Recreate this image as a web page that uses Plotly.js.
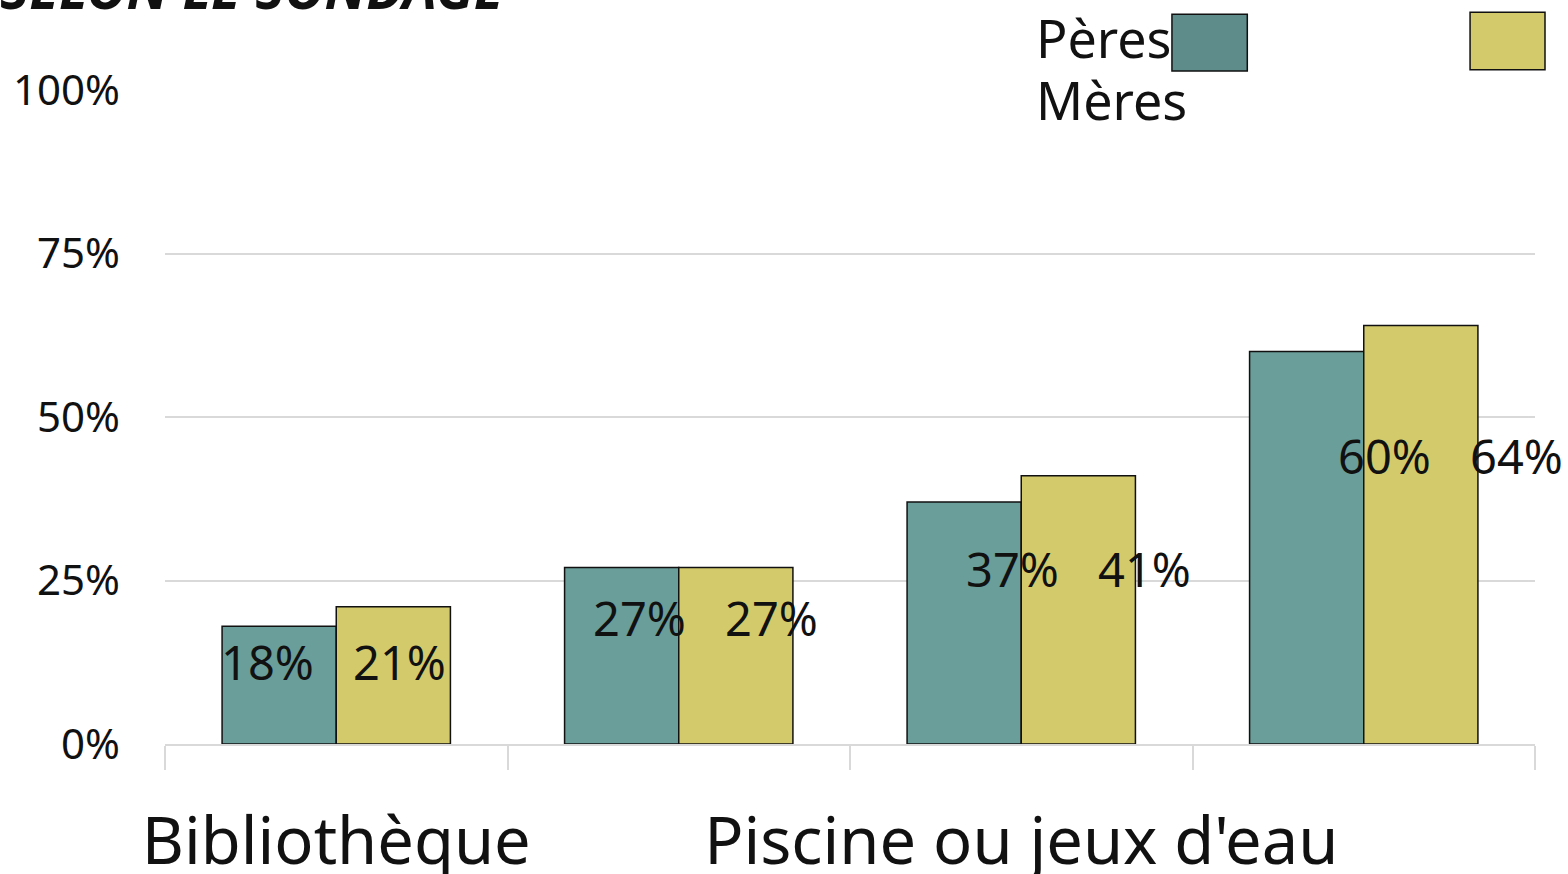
<!DOCTYPE html>
<html>
<head>
<meta charset="utf-8">
<script src="https://cdn.plot.ly/plotly-3.0.1.min.js"></script>
<style>
  html, body { margin: 0; padding: 0; background: #fff; }
  #chart { width: 1568px; height: 874px; }
</style>
</head>
<body>
<div id="chart"></div>
<script>
// Survey chart: Pères vs Mères
const categories = ['Bibliothèque', '', "Piscine ou jeux d'eau", ''];
const peres = [18, 27, 37, 60];
const meres = [21, 27, 41, 64];
const yTicks = [0, 25, 50, 75, 100];

const FONT = 'Noto Sans, Open Sans, sans-serif';
const teal = '#6a9e9a';
const yellow = '#d3cb6b';

const idx = categories.map((_, i) => i);

const traces = [
    {
        type: 'bar', name: 'Pères', x: idx, y: peres,
        marker: { color: teal, line: { color: '#111', width: 1.5 } },
        hoverinfo: 'y'
    },
    {
        type: 'bar', name: 'Mères', x: idx, y: meres,
        marker: { color: yellow, line: { color: '#111', width: 1.5 } },
        hoverinfo: 'y'
    }
];

// value labels, drawn lower in the bar like the original
const annotations = [];
peres.forEach((v, i) => {
    annotations.push({
        x: i, y: v * 0.75 - 1, xref: 'x', yref: 'y', text: v + '%',
        showarrow: false, xshift: -57 - 12 + 30 * i,
        font: { family: FONT, size: 47, color: '#111' }
    });
});
meres.forEach((v, i) => {
    annotations.push({
        x: i, y: peres[i] * 0.75 - 1, xref: 'x', yref: 'y', text: v + '%',
        showarrow: false, xshift: 57 + 6 + 30 * i,
        font: { family: FONT, size: 47, color: '#111' }
    });
});

// cut-off title at the top
annotations.push({
    xref: 'paper', yref: 'paper', x: -0.122, y: 1.156, xanchor: 'left', yanchor: 'middle',
    text: '<b><i>SELON LE SONDAGE</i></b>', showarrow: false,
    font: { family: FONT, size: 55, color: '#111' }
});

// legend texts
annotations.push({
    xref: 'paper', yref: 'paper', x: 0.634, y: 1.08, xanchor: 'left', yanchor: 'middle',
    text: 'Pères', showarrow: false, font: { family: FONT, size: 52, color: '#111' }
});
annotations.push({
    xref: 'paper', yref: 'paper', x: 0.634, y: 0.985, xanchor: 'left', yanchor: 'middle',
    text: 'Mères', showarrow: false, font: { family: FONT, size: 52, color: '#111' }
});

const shapes = [
    { type: 'rect', xref: 'paper', yref: 'paper', x0: 0.735, x1: 0.79, y0: 1.029, y1: 1.116,
      fillcolor: '#5e8c8a', line: { color: '#111', width: 1.5 } },
    { type: 'rect', xref: 'paper', yref: 'paper', x0: 0.9526, x1: 1.0073, y0: 1.031, y1: 1.119,
      fillcolor: yellow, line: { color: '#111', width: 1.5 } }
];

const layout = {
    width: 1568, height: 874,
    margin: { l: 165, r: 33, t: 90, b: 130 },
    paper_bgcolor: '#fff', plot_bgcolor: '#fff',
    barmode: 'group', bargap: 1 / 3, bargroupgap: 0,
    showlegend: false,
    font: { family: FONT, color: '#111' },
    xaxis: {
        range: [-0.5, 3.5],
        tickmode: 'array', tickvals: [0, 2], ticktext: [categories[0], categories[2]],
        ticks: '', ticklabelstandoff: 40,
        tickfont: { family: FONT, size: 65, color: '#111' },
        showline: true, linecolor: '#d9d9d9', linewidth: 2,
        showgrid: false, zeroline: false,
        minor: { tickmode: 'linear', tick0: -0.5, dtick: 1, ticks: 'outside',
                 ticklen: 24, tickwidth: 2, tickcolor: '#d9d9d9', showgrid: false }
    },
    yaxis: {
        range: [0, 100],
        tickmode: 'array', tickvals: yTicks, ticktext: yTicks.map(t => t + '%'),
        ticks: '', ticklabelstandoff: 44,
        tickfont: { family: FONT, size: 42, color: '#111' },
        showgrid: true, gridcolor: '#d9d9d9', gridwidth: 2,
        zeroline: false, showline: false
    },
    annotations: annotations,
    shapes: shapes
};

Plotly.newPlot('chart', traces, layout, { displayModeBar: false, staticPlot: true });
</script>
</body>
</html>
